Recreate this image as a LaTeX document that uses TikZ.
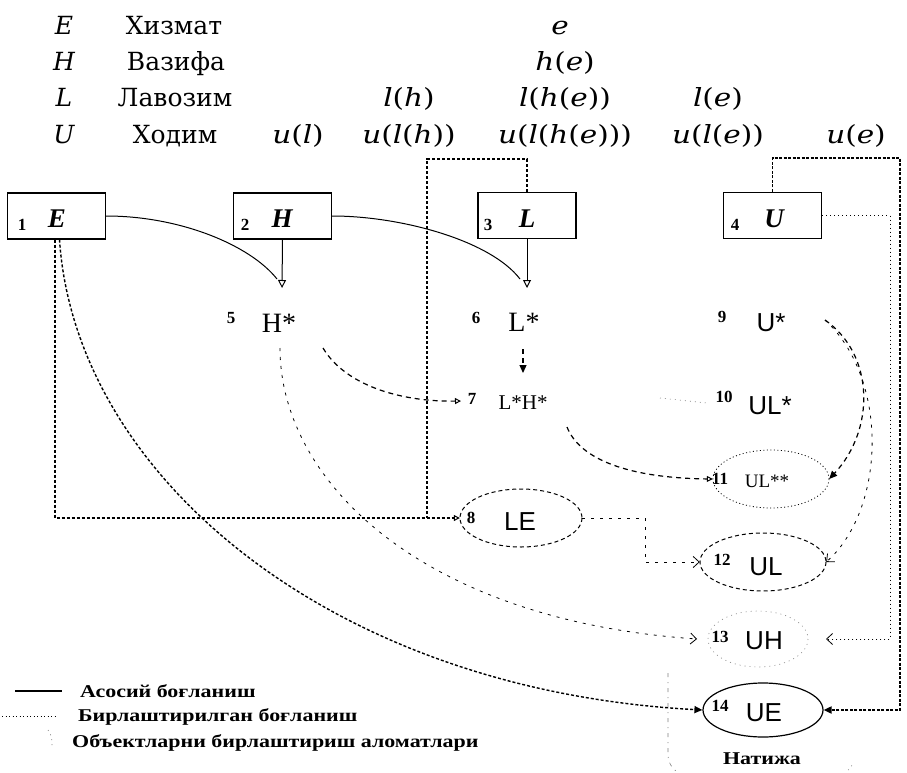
\documentclass[tikz,border=0pt]{standalone}
\usepackage{fontspec}
\setmainfont{Liberation Serif}
\newfontfamily\hdrfont{DejaVu Serif}
\newfontfamily\hmathfont[FakeStretch=1.18]{DejaVu Serif}
\newfontfamily\sansfnt{Liberation Sans}
\newfontfamily\legfont[FakeStretch=1.22]{Liberation Serif}
\usetikzlibrary{arrows.meta,shapes.geometric}
\newcommand\vu{\textit{u}}
\newcommand\vl{\textit{l}}
\newcommand\vh{\textit{h}}
\newcommand\ve{\textit{e}}
\tikzset{
  boxn/.style={draw,line width=1.2pt,minimum width=98pt,minimum height=46pt,inner sep=0pt},
  boxnum/.style={font=\bfseries\fontsize{17}{17}\selectfont,inner sep=0pt},
  boxlab/.style={font=\bfseries\itshape\fontsize{27}{27}\selectfont,inner sep=0pt},
  num/.style={font=\bfseries\fontsize{17}{17}\selectfont,inner sep=0pt},
  hd/.style={font=\hdrfont\fontsize{25}{25}\selectfont,inner sep=0pt,anchor=base},
  hdi/.style={font=\hdrfont\itshape\fontsize{25}{25}\selectfont,inner sep=0pt,anchor=base},
  hm/.style={font=\hmathfont\fontsize{25}{25}\selectfont,inner sep=0pt,anchor=base},
  sernode/.style={font=\fontsize{28}{28}\selectfont,inner sep=0pt},
  sannode/.style={font=\sansfnt\fontsize{26}{26}\selectfont,inner sep=0pt},
  ell/.style={ellipse,inner sep=0pt},
  solidcon/.style={line width=1pt},
  densedash/.style={line width=1.4pt,dash pattern=on 3pt off 2pt},
  meddash/.style={line width=1.2pt,dash pattern=on 5pt off 4pt},
  thindash/.style={line width=0.8pt,dash pattern=on 3pt off 6pt},
  thindot/.style={line width=0.8pt,dash pattern=on 1pt off 3pt},
  fainted/.style={line width=0.6pt,gray,dash pattern=on 1pt off 4pt},
  opentri/.style={-{Triangle[open,length=8pt,width=8pt,line width=1pt]}},
  smalltri/.style={-{Triangle[open,length=6pt,width=6pt,line width=1pt]}},
  filltri/.style={-{Triangle[length=8pt,width=7pt]}},
  barb/.style={-{Straight Barb[length=6pt,width=11pt,line width=0.8pt]}},
  leg/.style={font=\legfont\bfseries\fontsize{18}{18}\selectfont,inner sep=0pt,anchor=west}
}
\begin{document}
\begin{tikzpicture}[x=1pt,y=-1pt]
\useasboundingbox (0,0) rectangle (907,773);
\fill[white] (0,0) rectangle (907,773);
% header
\node[hdi] (hE) at (64,35) {E};
\node[hdi] (hH) at (64,71) {H};
\node[hdi] (hL) at (64,107) {L};
\node[hdi] (hU) at (64,143) {U};
\node[hd] (tE) at (174,35) {Хизмат};
\node[hd] (tH) at (176,71) {Вазифа};
\node[hd] (tL) at (175,107) {Лавозим};
\node[hd] (tU) at (175,143) {Ходим};
\node[hm] (m1) at (560,35) {\ve};
\node[hm] (m2) at (565,71) {\vh(\ve)};
\node[hm] (m3) at (409,107) {\vl(\vh)};
\node[hm] (m4) at (565,107) {\vl(\vh(\ve))};
\node[hm] (m5) at (718,107) {\vl(\ve)};
\node[hm] (m6) at (298,143) {\vu(\vl)};
\node[hm] (m7) at (409,143) {\vu(\vl(\vh))};
\node[hm] (m8) at (565,143) {\vu(\vl(\vh(\ve)))};
\node[hm] (m9) at (718,143) {\vu(\vl(\ve))};
\node[hm] (m10) at (856,143) {\vu(\ve)};
% boxes
\node[boxn] (bE) at (56.5,216) {};
\node[boxn] (bH) at (282.5,216) {};
\node[boxn] (bL) at (527,215.5) {};
\node[boxn] (bU) at (772.5,215.5) {};
\node[boxnum] (b1) at (22,225) {1};
\node[boxnum] (b2) at (245,225) {2};
\node[boxnum] (b3) at (488,225) {3};
\node[boxnum] (b4) at (735,225) {4};
\node[boxlab] (lE) at (57,219) {E};
\node[boxlab] (lH) at (282,219) {H};
\node[boxlab] (lL) at (527,219) {L};
\node[boxlab] (lU) at (774,219) {U};
% nodes
\node[num] (n5) at (231,318) {5};
\node[sernode] (Hs) at (279,323) {H*};
\node[num] (n6) at (476,318) {6};
\node[sernode] (Ls) at (524,322) {L*};
\node[num] (n9) at (722,317) {9};
\node[sannode] (Us) at (771,323) {U*};
\node[num] (n7) at (472,399) {7};
\node[font=\fontsize{21}{21}\selectfont,inner sep=0pt] (LH) at (523,403) {L*H*};
\node[num] (n10) at (724,397) {10};
\node[sannode] (ULs) at (770,406) {UL*};
\node[ell,minimum width=116pt,minimum height=58pt] (e11) at (771,479) {};
\node[ell,minimum width=122pt,minimum height=58pt] (e8) at (521,518) {};
\node[ell,minimum width=126pt,minimum height=58pt] (e12) at (763,562) {};
\node[ell,minimum width=100pt,minimum height=56pt] (e13) at (758,639) {};
\node[ell,draw,line width=1.2pt,minimum width=120pt,minimum height=54pt] (e14) at (763,710) {};
\draw[line width=0.8pt,dash pattern=on 1pt off 2.5pt] (e11.center) ellipse [x radius=58,y radius=29];
\draw[line width=1pt,dash pattern=on 4pt off 3pt] (e8.center) ellipse [x radius=61,y radius=29];
\draw[line width=1pt,dash pattern=on 4pt off 3pt] (e12.center) ellipse [x radius=63,y radius=29];
\draw[fainted] (e13.center) ellipse [x radius=50,y radius=28];
\node[num] (n11) at (720,479) {11};
\node[font=\fontsize{19}{19}\selectfont,inner sep=0pt] (ULss) at (767,481) {UL**};
\node[num] (n8) at (471,518) {8};
\node[sannode] (LE) at (520,522) {LE};
\node[num] (n12) at (722,560) {12};
\node[sannode] (UL) at (766,567) {UL};
\node[num] (n13) at (720,637) {13};
\node[sannode] (UH) at (764,641) {UH};
\node[num] (n14) at (720,706) {14};
\node[sannode] (UE) at (764,713) {UE};
\node[font=\legfont\bfseries\fontsize{18}{18}\selectfont,inner sep=0pt] (res) at (762,759) {Натижа};
% coordinates
\coordinate (cH) at (277,279);
\coordinate (tHa) at (282,288);
\coordinate (cL) at (520,279);
\coordinate (tLa) at (527,288);
\coordinate (rL) at (427,159);
\coordinate (jL) at (427,518);
\coordinate (hs1) at (323,348);
\coordinate (hs2) at (280,348);
\coordinate (ls1) at (523,349);
\coordinate (ls2) at (523,373);
\coordinate (lh1) at (567,427);
\coordinate (us1) at (825,320);
\coordinate (rU) at (900,158);
\coordinate (rU2) at (890,215.5);
\coordinate (tUH) at (826,639);
\coordinate (t7) at (461,401);
\coordinate (t13) at (697,639);
\coordinate (f1) at (660,398);
\coordinate (f2) at (707,403);
% solid connectors
\draw[solidcon] (bE.east) .. controls (180,216) and (250,245) .. (cH);
\draw[solidcon,opentri] (bH.south) -- (tHa);
\draw[solidcon] (bH.east) .. controls (400,216) and (490,240) .. (cL);
\draw[solidcon,opentri] (bL.south) -- (tLa);
% dotted frames
\draw[densedash,smalltri] ([xshift=-1.5pt]bE.south) |- (e8.west);
\draw[densedash] (bL.north) |- (rL) -- (jL);
\draw[densedash,filltri] ([xshift=3pt]bE.south) .. controls (75,475) and (330,690) .. (e14.west);
\draw[line width=1.8pt,dash pattern=on 3pt off 1.5pt,filltri] (bU.north) |- (rU) |- (e14.east);
\draw[thindot,barb] (bU.east) -- (rU2) |- (tUH);
% dashed connectors
\draw[meddash,smalltri] (hs1) .. controls (345,385) and (400,402) .. (t7);
\draw[meddash,filltri] (ls1) -- (ls2);
\draw[meddash,smalltri] (lh1) .. controls (580,460) and (630,478) .. (e11.west);
\draw[meddash,filltri] (us1) .. controls (875,355) and (875,430) .. (e11.east);
\draw[thindash,barb] (us1) .. controls (890,380) and (885,510) .. (e12.east);
\draw[thindash,barb] (hs2) .. controls (280,480) and (420,620) .. (t13);
\draw[thindash,barb] (e8.east) -- ++(63,0) |- (e12.west);
\draw[fainted] (f1) -- (f2);
% result frame
\coordinate (fr1) at (668,673);
\coordinate (fr2) at (668,755);
\coordinate (fr3) at (686,778);
\coordinate (fr4) at (842,778);
\coordinate (fr5) at (853,764);
\draw[fainted,dash pattern=on 4pt off 5pt on 1pt off 5pt] (fr1) -- (fr2) .. controls (668,766) and (676,772) .. (fr3);
\draw[fainted] (fr4) -- (fr5);
% legend
\coordinate (la1) at (15,691);
\coordinate (la2) at (62,691);
\coordinate (lb1) at (2,716);
\coordinate (lb2) at (57,716);
\coordinate (lc1) at (48,730);
\coordinate (lc2) at (52,746);
\draw[line width=1.2pt] (la1) -- (la2);
\draw[line width=0.8pt,dash pattern=on 1pt off 2.5pt] (lb1) -- (lb2);
\draw[fainted] (lc1) .. controls (52,735) and (52,740) .. (lc2);
\node[leg] (g1) at (80,691) {Асосий боғланиш};
\node[leg] (g2) at (78,717) {Бирлаштирилган боғланиш};
\node[leg] (g3) at (72,743) {Объектларни бирлаштириш аломатлари};
\end{tikzpicture}
\end{document}
